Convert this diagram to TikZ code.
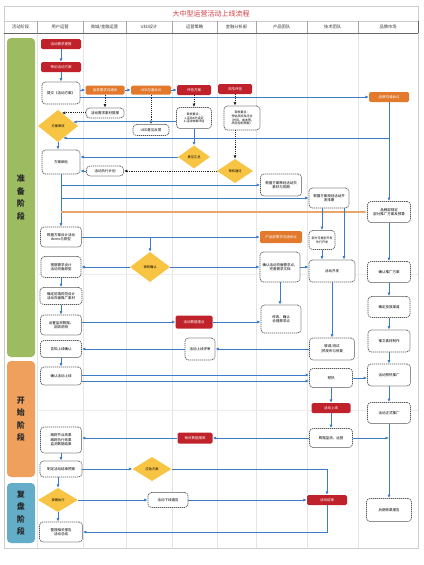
\documentclass[tikz,border=0pt]{standalone}
\usepackage{fontspec}
\setmainfont{Noto Sans CJK SC}
\usetikzlibrary{arrows.meta, shapes.geometric}

\definecolor{boxred}{HTML}{C0222B}
\definecolor{boxorange}{HTML}{E2792D}
\definecolor{gold}{HTML}{F7C443}
\definecolor{lineblue}{HTML}{3B7BC8}
\definecolor{lineorange}{HTML}{E8A56E}
\definecolor{stagegreen}{HTML}{9DBB61}
\definecolor{stageorange}{HTML}{EEA05C}
\definecolor{stageblue}{HTML}{63ADC9}
\definecolor{titlered}{HTML}{D33A3F}

\tikzset{
    wh/.style 2 args={minimum width=#1*2pt, minimum height=#2*2pt},
    flow/.style={draw=lineblue, line width=2pt, -{Latex[length=7pt, width=6pt]}},
    brandline/.style={draw=lineorange, line width=2.4pt, -{Latex[length=7pt, width=6pt]}},
    hint/.style={draw=black!85, dotted, line width=1.8pt, -{Latex[length=7pt, width=6pt]}},
    redbox/.style={fill=boxred, text=white, rounded corners=3pt, inner sep=1pt, align=center, font=\fontsize{7}{9}\selectfont},
    orangebox/.style={fill=boxorange, text=white, rounded corners=3pt, inner sep=1pt, align=center, font=\fontsize{7}{9}\selectfont},
    dashbox/.style={draw=black!65, dash pattern=on 2.5pt off 1.5pt, line width=1.4pt, fill=white, rounded corners=7pt, inner sep=1pt, align=center, font=\fontsize{7}{9}\selectfont},
    decision/.style={diamond, fill=gold, inner sep=0pt, align=center, font=\fontsize{6.5}{8}\selectfont},
    stagebox/.style={rounded corners=8pt, inner sep=0pt, align=center, text=black!85, font=\fontsize{16}{25}\selectfont\bfseries},
    head/.style={text=black!80, font=\fontsize{8.5}{10}\selectfont},
}

\begin{document}
\begin{tikzpicture}[x=2pt, y=-2pt]
    \useasboundingbox (0,0) rectangle (424,565);
    \draw[black!20] (4,6) rectangle (418,548);
    \draw[black!20] (4,21) -- (418,21);
    \draw[black!10] (37,33) -- (37,548) (83,33) -- (83,548) (126,33) -- (126,548) (172,33) -- (172,548)
        (217,33) -- (217,548) (256,33) -- (256,548) (307,33) -- (307,548) (358,33) -- (358,548);
    \draw[black!7] (37,274) -- (418,274) (37,410) -- (418,410);
    \draw[black!35] (37,21) -- (37,33) (83,21) -- (83,33) (126,21) -- (126,33) (172,21) -- (172,33)
        (217,21) -- (217,33) (256,21) -- (256,33) (307,21) -- (307,33) (358,21) -- (358,33);
    \draw[black!60, line width=1.5pt] (4,33) -- (418,33) (418,21) -- (418,33);

    \node[text=titlered, font=\fontsize{14}{16}\selectfont] (t) at (211,14) {大中型运营活动上线流程};
    \node[head] (h1) at (20.5,27) {活动阶段};
    \node[head] (h2) at (60,27) {用户运营};
    \node[head] (h3) at (104.5,27) {商城/金融运营};
    \node[head] (h4) at (149,27) {UED设计};
    \node[head] (h5) at (194.5,27) {运营策略};
    \node[head] (h6) at (236.5,27) {金融分析部};
    \node[head] (h7) at (281.5,27) {产品团队};
    \node[head] (h8) at (332.5,27) {技术团队};
    \node[head] (h9) at (388,27) {品牌市场};

    \node[stagebox, fill=stagegreen, wh={28}{319}] (s1) at (21,197.5) {准\\备\\阶\\段};
    \node[stagebox, fill=stageorange, wh={28}{116}] (s2) at (21,419) {开\\始\\阶\\段};
    \node[stagebox, fill=stageblue, wh={28}{60}] (s3) at (21,513) {复\\盘\\阶\\段};

    \node[redbox, wh={40}{10}] (1) at (61,44) {活动需求提报};
    \node[redbox, wh={40}{10}] (2) at (61,67) {策划活动方案};
    \node[dashbox, wh={38}{22}] (3) at (61,93) {提交《活动方案》};
    \node[orangebox, wh={39}{9}] (4) at (105,90) {品类需求沟通会};
    \node[orangebox, wh={40}{9}] (5) at (151,90) {UED沟通会议};
    \node[redbox, wh={34}{10}] (6) at (194,90) {评估方案};
    \node[redbox, wh={34}{10}] (7) at (235,89) {风险评估};
    \node[orangebox, wh={40}{10}] (8) at (389,97) {品牌沟通会议};
    \node[dashbox, wh={38}{10}] (9) at (105,113) {活动需求素材提报};
    \node[dashbox, wh={36}{11}] (10) at (151,130) {UED意见反馈};
    \node[decision, wh={40}{32}] (11) at (58,126) {方案审核};
    \node[dashbox, wh={35}{21}, font=\fontsize{6}{7.5}\selectfont] (12) at (194,118) {审核要点：\\1.活动KPI设定\\2.活动效果评估};
    \node[dashbox, wh={36}{24}, font=\fontsize{6}{7.5}\selectfont] (13) at (242,118) {审核要点：\\预估风险及应对\\（时间、成本等，\\风险控制预案）};
    \node[decision, wh={32}{23}] (14) at (194,157) {意见汇总};
    \node[decision, wh={36}{24}] (15) at (235,171) {审核通过};
    \node[dashbox, wh={38}{24}] (16) at (61,162) {方案细化};
    \node[dashbox, wh={37}{10}] (17) at (105,171) {活动执行计划};
    \node[dashbox, wh={41}{22}] (18) at (281,185) {根据方案策划活动页\\素材与排期};
    \node[dashbox, wh={40}{20}] (19) at (329,198) {根据方案规划活动开\\发排期};
    \node[dashbox, wh={43}{21}] (20) at (389,212) {品牌部规定\\部分推广方案及预算};
    \node[dashbox, wh={41}{20}] (21) at (61,237) {根据方案设计活动\\demo与原型};
    \node[orangebox, wh={42}{12}] (22) at (281,237) {产品部需求沟通会议};
    \node[dashbox, wh={26}{19}, font=\fontsize{6}{7.5}\selectfont] (23) at (322,240) {部分可提前开发\\先行开发};
    \node[decision, wh={40}{30}] (24) at (150,267) {审核确认};
    \node[dashbox, wh={40}{21}] (25) at (61,267) {根据需求设计\\活动页面原型};
    \node[dashbox, wh={40}{30}] (26) at (280,267) {确认活动页面需求点，\\完善需求文档};
    \node[dashbox, wh={46}{22}] (27) at (332,271) {活动开发};
    \node[dashbox, wh={42}{17}] (28) at (61,296) {确定前端视觉设计\\活动页面推广素材};
    \node[dashbox, wh={41}{20}] (29) at (61,325) {设置监测数据、\\回收说明};
    \node[redbox, wh={37}{13}] (30) at (194,322) {活动数据埋点};
    \node[dashbox, wh={40}{28}] (31) at (281,319) {修改、确认\\合理需求点};
    \node[dashbox, wh={45}{22}] (32) at (332,349) {联调/测试\\/预发布与修复};
    \node[dashbox, wh={30}{22}] (33) at (200,349) {活动上线评审};
    \node[dashbox, wh={41}{17}] (34) at (61,349) {告知上线确认};
    \node[dashbox, wh={43}{21}] (35) at (389,272) {确认推广方案};
    \node[dashbox, wh={42}{21}] (36) at (389,307) {确定投放渠道};
    \node[dashbox, wh={42}{22}] (37) at (389,341) {推文素材制作};
    \node[dashbox, wh={41}{18}] (38) at (61,376) {确认活动上线};
    \node[dashbox, wh={43}{19}] (39) at (331,378) {预热};
    \node[dashbox, wh={43}{22}] (40) at (389,375) {活动预热推广};
    \node[redbox, wh={39}{10}] (41) at (331,408) {活动上线};
    \node[dashbox, wh={43}{19}] (42) at (331,438) {数据监测、运营};
    \node[redbox, wh={35}{11}] (43) at (195,438) {每日数据报表};
    \node[dashbox, wh={41}{26}] (44) at (61,440) {跟踪节点效果\\跟踪执行效果\\监测数据结果};
    \node[dashbox, wh={43}{21}] (45) at (389,413) {活动正式推广};
    \node[dashbox, wh={42}{16}] (46) at (61,469) {制定活动结束预案};
    \node[decision, wh={39}{24}] (47) at (152,469) {应急方案};
    \node[decision, wh={40}{24}] (48) at (58,500) {按期执行};
    \node[dashbox, wh={40}{15}] (49) at (168,500) {活动下线通告};
    \node[redbox, wh={40}{10}] (50) at (327,500) {活动结束};
    \node[dashbox, wh={43}{20}] (51) at (61,532) {整理相关报告\\活动总结};
    \node[dashbox, wh={45}{23}] (52) at (389,510) {后期效果报告};

    \draw[flow] (1) -- (2);
    \draw[flow] (2) -- (3);
    \draw[flow] (3.east |- 4) -- (4);
    \draw[flow] (4) -- (5);
    \draw[flow] (5) -- (6);
    \draw[flow] (3.east |- 8) -- (8);
    \draw[hint] (4) -- (9);
    \draw[hint] (9.west |- 11.74) -- (11.74);
    \draw[hint] (5) -- (10);
    \draw[hint] (6) -- (12);
    \draw[hint] (7) -- (7 |- 13.north);
    \draw[flow] (12.west |- 11.15) -- (11.15);
    \draw[flow] (8) -- (20);
    \draw[flow] (8.south |- 11.-67) -- (11.-67);
    \draw[flow] (12) -- (14);
    \draw[hint] (13.south -| 7) -- (15);
    \draw[flow] (14.west) -- (14.west -| 16.east);
    \draw[flow] (11.south) -- (11.south |- 16.north);
    \draw[hint] (15.west) -- (15.west -| 17.east);
    \draw[flow] (17.west) -- (17.west -| 16.east);
    \draw[flow] (16) -- (21);
    \draw[flow] (16.south |- 18.west) -- (18.west);
    \draw[flow] (16.south |- 19.west) -- (19.west);
    \draw[brandline] (16.south |- 20.west) -- (20.west);
    \draw[flow] (21) -- (22);
    \draw[flow] (24 |- 21.east) -- (24);
    \draw[flow] (24) -- (25);
    \draw[flow] (24) -- (26);
    \draw[flow] (26.east) -- (26.east -| 27.west);
    \draw[flow] (19.south -| 23) -- (23);
    \draw[flow] ([xshift=30pt]19.south) -- ([xshift=30pt]19.south |- 27.north);
    \draw[flow] (23) -- (23 |- 27.north);
    \draw[flow] (25) -- (28);
    \draw[flow] (28) -- (29);
    \draw[flow] (29.east |- 30) -- (30);
    \draw[flow] (30) -- (30 -| 31.west);
    \draw[flow] (26.south) -- (26.south |- 31.north);
    \draw[flow] (27) -- (32);
    \draw[flow] (32) -- (33);
    \draw[flow] (33) -- (34);
    \draw[flow] (34) -- (38);
    \draw[flow] ([yshift=2pt]38.east) -- ([yshift=2pt]38.east -| 39.west);
    \draw[flow] ([yshift=-10pt]38.east) -- ([yshift=-10pt]38.east -| 39.west);
    \draw[flow] (39.east) -- (39.east -| 40.west);
    \draw[flow] (20) -- (35);
    \draw[flow] (35) -- (36);
    \draw[flow] (36) -- (37);
    \draw[flow] (37) -- (40);
    \draw[flow] (40) -- (45);
    \draw[flow] (45) -- (52);
    \draw[flow] (39) -- (41);
    \draw[flow] (41) -- (42);
    \draw[flow] (42) -- (43);
    \draw[flow] (43.west) -- (43.west -| 44.east);
    \draw[flow] (42.east) -- (42.east -| 45);
    \draw[flow] (44) -- (46);
    \draw[flow] (46) -- (47);
    \draw[flow] (47.east) -| (50.north);
    \draw[flow] (46.south -| 48) -- (48);
    \draw[flow] (48) -- (49);
    \draw[flow] (49) -- (50);
    \draw[flow] (48) -- (48 |- 51.north);
    \draw[flow] (50.south) |- (51.east);
\end{tikzpicture}
\end{document}
